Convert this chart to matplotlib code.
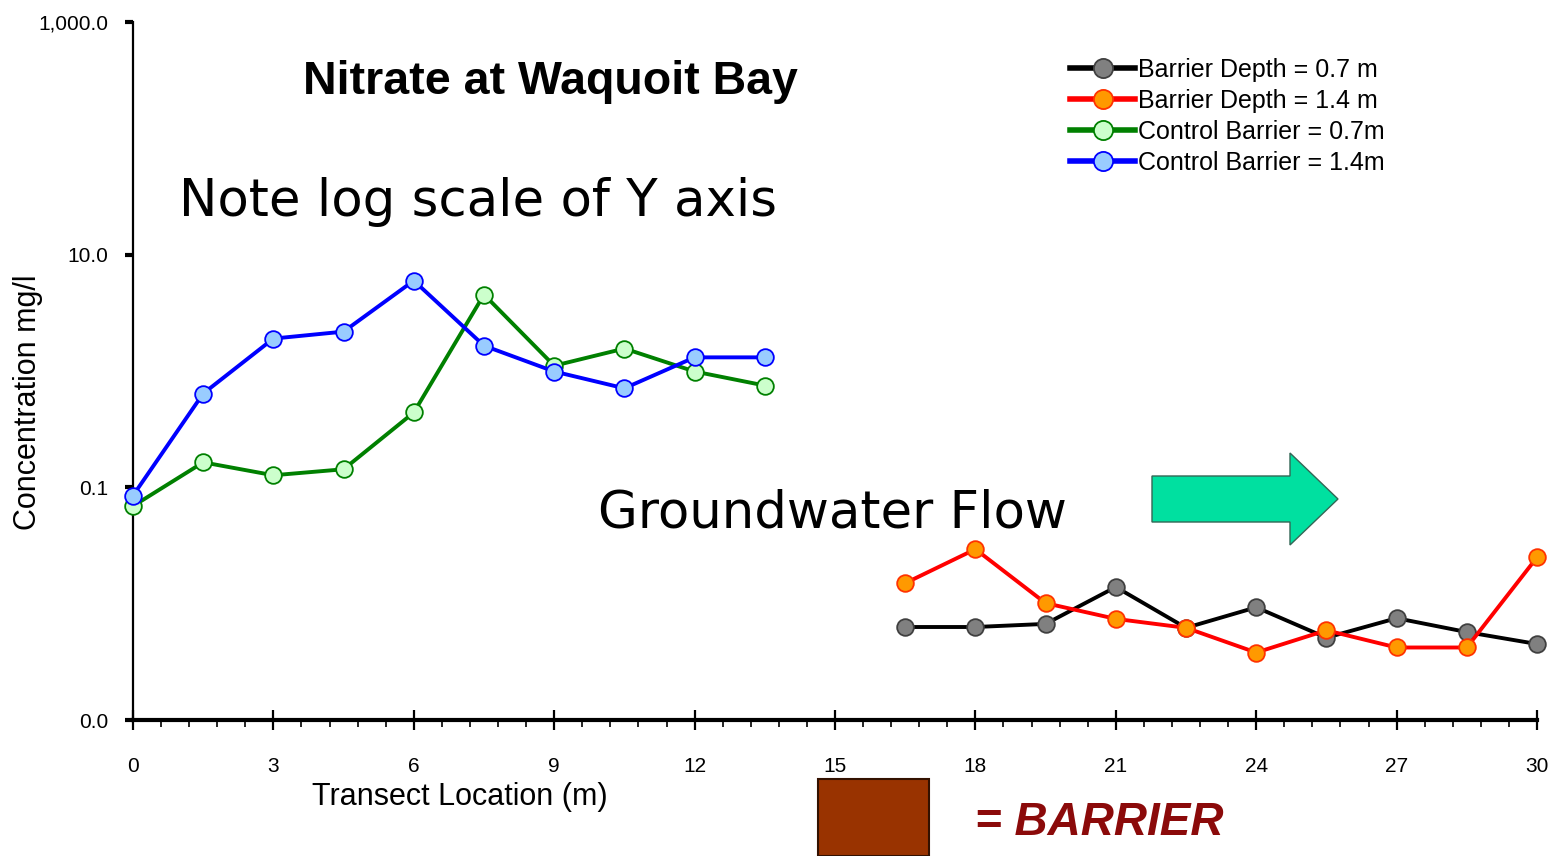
import matplotlib
matplotlib.use("Agg")
import matplotlib.pyplot as plt
from matplotlib import font_manager
from matplotlib.patches import Polygon, Rectangle
from matplotlib.ticker import FixedLocator, MultipleLocator

# ---------------- data ----------------
x_control = [0, 1.5, 3, 4.5, 6, 7.5, 9, 10.5, 12, 13.5]
x_barrier = [16.5, 18, 19.5, 21, 22.5, 24, 25.5, 27, 28.5, 30]

barrier_07 = [0.0063, 0.0063, 0.0067, 0.0139, 0.0062, 0.0093, 0.0051, 0.0075, 0.0057, 0.0045]
barrier_14 = [0.015, 0.0294, 0.0101, 0.0074, 0.0062, 0.0038, 0.0059, 0.0042, 0.0042, 0.025]
control_07 = [0.069, 0.164, 0.127, 0.143, 0.44, 4.54, 1.11, 1.56, 0.99, 0.75]
control_14 = [0.085, 0.64, 1.9, 2.18, 5.98, 1.65, 0.99, 0.71, 1.31, 1.31]

labels = ["Barrier Depth = 0.7 m", "Barrier Depth = 1.4 m",
          "Control Barrier = 0.7m", "Control Barrier = 1.4m"]

y_ticks = [0.001, 0.1, 10, 1000]
y_ticklabels = ["0.0", "0.1", "10.0", "1,000.0"]
x_ticks = [0, 3, 6, 9, 12, 15, 18, 21, 24, 27, 30]

# ---------------- fonts ----------------
avail = {f.name for f in font_manager.fontManager.ttflist}
def pick(*names):
    for n in names:
        if n in avail:
            return n
    return "DejaVu Sans"
NARROW = pick("Liberation Sans Narrow", "Liberation Sans")
SANS = pick("DejaVu Sans")
ARIAL = pick("Liberation Sans")

W, H = 1552, 856
fig = plt.figure(figsize=(W / 100, H / 100), dpi=100)
L, R, T, B = 133, 1537, 22, 720
ax = fig.add_axes([L / W, 1 - B / H, (R - L) / W, (B - T) / H])
ax.set_yscale("log")
ax.set_xlim(0, 30)
ax.set_ylim(0.001, 1000)

styles = [
    (x_barrier, barrier_07, "black", "#808080", "#404040"),
    (x_barrier, barrier_14, "#FF0000", "#FF9900", "#FF3300"),
    (x_control, control_07, "#008000", "#CCFFCC", "#008000"),
    (x_control, control_14, "#0000FF", "#99CCFF", "#0000FF"),
]
for (xs, ys, lc, fc, ec), lab in zip(styles, labels):
    ax.plot(xs, ys, color=lc, lw=2.8, marker="o", ms=12, mfc=fc, mec=ec,
            mew=1.3, label=lab, clip_on=False, zorder=3)

for s in ["top", "right"]:
    ax.spines[s].set_visible(False)
ax.spines["left"].set_linewidth(1.6)
ax.spines["bottom"].set_linewidth(3)

ax.yaxis.set_major_locator(FixedLocator(y_ticks))
ax.yaxis.set_minor_locator(FixedLocator([]))
ax.set_yticklabels(y_ticklabels)
ax.tick_params(axis="y", which="major", direction="out", length=6, width=3,
               labelsize=15, pad=12)
ax.xaxis.set_major_locator(FixedLocator(x_ticks))
ax.xaxis.set_minor_locator(MultipleLocator(0.6))
ax.tick_params(axis="x", which="major", direction="inout", length=14, width=1.6,
               labelsize=15, pad=20)
ax.tick_params(axis="x", which="minor", direction="out", length=5, width=1.2)
for t in ax.get_xticklabels() + ax.get_yticklabels():
    t.set_fontfamily(NARROW)

ax.set_xlabel("Transect Location (m)", fontsize=22, fontfamily=NARROW)
ax.xaxis.set_label_coords((460 - L) / (R - L), -(797 - B) / (B - T), transform=ax.transAxes)
ax.xaxis.label.set_verticalalignment("center")
fig.text(28 / W, 1 - 402 / H, "Concentration mg/l", rotation=90, fontsize=22,
         fontfamily=ARIAL, ha="center", va="center")

fig.text(550 / W, 1 - 82 / H, "Nitrate at Waquoit Bay", fontsize=33.5,
         fontfamily=NARROW, fontweight="bold", ha="center", va="center")
fig.text(478 / W, 1 - 202 / H, "Note log scale of Y axis", fontsize=37,
         fontfamily=SANS, ha="center", va="center")
fig.text(832 / W, 1 - 513 / H, "Groundwater Flow", fontsize=37,
         fontfamily=SANS, ha="center", va="center")

# arrow
arrow_px = [(1152, 476), (1290, 476), (1290, 453), (1338, 499), (1290, 545),
            (1290, 522), (1152, 522)]
fig.patches.append(Polygon([(x / W, 1 - y / H) for x, y in arrow_px], closed=True,
                           transform=fig.transFigure, facecolor="#00E0A0",
                           edgecolor="#336655", lw=1))
# barrier box
fig.patches.append(Rectangle((818 / W, 0), (929 - 818) / W, (856 - 779) / H,
                             transform=fig.transFigure, facecolor="#993300",
                             edgecolor="#331100", lw=1.5))
fig.text(975 / W, 1 - 823 / H, "= BARRIER", fontsize=33, fontfamily=ARIAL,
         fontweight="bold", fontstyle="italic", color="#8B0A0A", ha="left",
         va="center")

leg = ax.legend(loc="upper left", bbox_to_anchor=((1070 - L) / (R - L), 1 - (58 - T) / (B - T)),
                frameon=False, prop={"family": NARROW, "size": 18},
                handlelength=2.6, handletextpad=0.1, labelspacing=0.28,
                borderaxespad=0, borderpad=0, markerscale=1.15)
for h in leg.get_lines():
    h.set_linewidth(4)

fig.savefig("out.png", dpi=100, facecolor="white")
